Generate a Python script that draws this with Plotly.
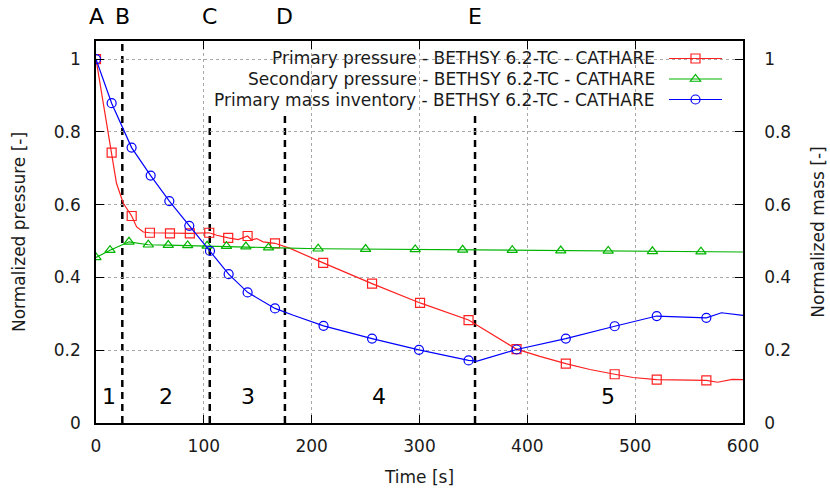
import plotly.graph_objects as go

# ---------------- data ----------------
# Primary pressure (normalized) - line samples
p_time = [0, 3.7, 8.3, 14.5, 19, 25.3, 33.1, 37.7, 43.9, 50, 68.6, 78, 87, 105, 112,
          122.6, 131.9, 140.6, 144.3, 149, 155, 166, 180, 210.7, 256, 300.5, 345.5,
          390, 411.6, 435.7, 458, 481, 498, 520, 566, 576.5, 590, 600]
p_val = [1.0, 0.934, 0.842, 0.743, 0.659, 0.604, 0.569, 0.539, 0.525, 0.523, 0.521, 0.521,
         0.521, 0.523, 0.516, 0.509, 0.504, 0.514, 0.503, 0.507, 0.498, 0.494, 0.480,
         0.440, 0.383, 0.330, 0.283, 0.203, 0.183, 0.163, 0.147, 0.134, 0.125, 0.119,
         0.117, 0.112, 0.120, 0.119]
# Primary pressure - marker points
p_mk_time = [0, 14.5, 33.1, 50, 68.6, 87, 105, 122.6, 140.6, 166, 210.7, 256, 300.5,
             345.5, 390, 435.7, 481, 520, 566]
p_mk_val = [1.0, 0.743, 0.569, 0.523, 0.521, 0.521, 0.523, 0.509, 0.514, 0.494, 0.440,
            0.383, 0.330, 0.283, 0.203, 0.163, 0.134, 0.119, 0.117]

# Secondary pressure (normalized)
s_time = [0, 13, 30.6, 48.5, 67, 85, 103, 121, 139, 160, 206, 250, 296, 340, 386, 431,
          475, 516, 561, 600]
s_val = [0.455, 0.475, 0.498, 0.490, 0.489, 0.488, 0.487, 0.486, 0.485, 0.482, 0.479,
         0.478, 0.477, 0.476, 0.475, 0.474, 0.473, 0.472, 0.471, 0.470]
s_mk_time = [0, 13, 30.6, 48.5, 67, 85, 103, 121, 139, 160, 206, 250, 296, 340, 386,
             431, 475, 516, 561]
s_mk_val = [0.455, 0.475, 0.498, 0.490, 0.489, 0.488, 0.487, 0.486, 0.485, 0.482, 0.479,
            0.478, 0.477, 0.476, 0.475, 0.474, 0.473, 0.472, 0.471]

# Primary mass inventory (normalized)
m_time = [0, 14.5, 33, 50.7, 68, 86.5, 105.7, 123, 140.6, 166, 183, 211, 256, 299.5,
          345.5, 353.5, 390, 435.7, 481, 520, 566, 580, 600]
m_val = [1.0, 0.879, 0.757, 0.680, 0.610, 0.542, 0.473, 0.409, 0.359, 0.315, 0.296,
         0.267, 0.232, 0.201, 0.172, 0.170, 0.202, 0.232, 0.266, 0.294, 0.289, 0.303, 0.296]
m_mk_time = [0, 14.5, 33, 50.7, 68, 86.5, 105.7, 123, 140.6, 166, 211, 256, 299.5,
             345.5, 390, 435.7, 481, 520, 566]
m_mk_val = [1.0, 0.879, 0.757, 0.680, 0.610, 0.542, 0.473, 0.409, 0.359, 0.315, 0.267,
            0.232, 0.201, 0.172, 0.202, 0.232, 0.266, 0.294, 0.289]

# Phase boundaries and labels
event_letters = ["A", "B", "C", "D", "E"]
event_times = [0, 24.4, 105.5, 175.2, 351.5]
phase_labels = ["1", "2", "3", "4", "5"]
phase_times = [12.3, 64.6, 140.6, 262.6, 475]
phase_level = 0.072

series_names = ["Primary pressure - BETHSY 6.2-TC - CATHARE",
                "Secondary pressure - BETHSY 6.2-TC - CATHARE",
                "Primary mass inventory - BETHSY 6.2-TC - CATHARE"]

x_ticks = [0, 100, 200, 300, 400, 500, 600]
y_ticks = [0, 0.2, 0.4, 0.6, 0.8, 1.0]
y_ticklabels = ["0", "0.2", "0.4", "0.6", "0.8", "1"]

# ---------------- styling ----------------
RED, GREEN, BLUE = "#ff2020", "#00b400", "#0000ff"
FONT = "DejaVu Sans"
FS = 17
TXT = "#1a1a1a"
W, H = 830, 488
ML, MR, MT, MB = 96, 87, 41, 65
PW, PH = W - ML - MR, H - MT - MB

fig = go.Figure()

def add_series(t, v, tm, vm, color, symbol, yaxis):
    fig.add_trace(go.Scatter(x=t, y=v, mode="lines", yaxis=yaxis,
                             line=dict(color=color, width=1.2), showlegend=False,
                             hoverinfo="skip"))
    fig.add_trace(go.Scatter(x=tm, y=vm, mode="markers", yaxis=yaxis,
                             marker=dict(symbol=symbol, size=9, color=color,
                                         line=dict(color=color, width=1.2)),
                             showlegend=False))

add_series(p_time, p_val, p_mk_time, p_mk_val, RED, "square-open", "y")
add_series(s_time, s_val, s_mk_time, s_mk_val, GREEN, "triangle-up-open", "y")
add_series(m_time, m_val, m_mk_time, m_mk_val, BLUE, "circle-open", "y2")

shapes = []
# dashed phase boundaries (skip A at t=0, which lies on the axis)
for t in event_times[1:]:
    shapes.append(dict(type="line", xref="x", yref="paper", x0=t, x1=t, y0=0, y1=1,
                       line=dict(color="black", width=2.5, dash="7px,5px"),
                       layer="between"))

def px2paper_x(px):
    return (px - ML) / PW

def px2paper_y(py):
    return (MT + PH - py) / PH

# opaque key box
shapes.append(dict(type="rect", xref="paper", yref="paper",
                   x0=px2paper_x(126), x1=px2paper_x(736),
                   y0=px2paper_y(111), y1=1.0,
                   fillcolor="white", line=dict(width=0), layer="between"))

annotations = []
# key entries (text right aligned, sample on the right)
row_px = [58.5, 79, 99.5]
colors = [RED, GREEN, BLUE]
kinds = ["square", "triangle", "circle"]
text_right = px2paper_x(657)
samp_x0, samp_x1, samp_xm = px2paper_x(669), px2paper_x(722), px2paper_x(695.5)
hx, hy = 4.5 / PW, 4.5 / PH
for name, rp, col, kind in zip(series_names, row_px, colors, kinds):
    yy = px2paper_y(rp)
    annotations.append(dict(text=name, xref="paper", yref="paper", x=text_right, y=yy,
                            xanchor="right", yanchor="middle", showarrow=False,
                            font=dict(family=FONT, size=FS, color=TXT)))
    shapes.append(dict(type="line", xref="paper", yref="paper", x0=samp_x0, x1=samp_x1,
                       y0=yy, y1=yy, line=dict(color=col, width=1.2), layer="above"))
    if kind == "square":
        shapes.append(dict(type="rect", xref="paper", yref="paper",
                           x0=samp_xm - hx, x1=samp_xm + hx, y0=yy - hy, y1=yy + hy,
                           line=dict(color=col, width=1.2), layer="above"))
    elif kind == "circle":
        shapes.append(dict(type="circle", xref="paper", yref="paper",
                           x0=samp_xm - hx, x1=samp_xm + hx, y0=yy - hy, y1=yy + hy,
                           line=dict(color=col, width=1.2), layer="above"))
    else:
        tx = 5.2 / PW
        ty_top, ty_bot = 4.5 / PH, 2.25 / PH
        path = (f"M{samp_xm - tx},{yy - ty_bot} L{samp_xm + tx},{yy - ty_bot} "
                f"L{samp_xm},{yy + ty_top} Z")
        shapes.append(dict(type="path", xref="paper", yref="paper", path=path,
                           line=dict(color=col, width=1.2), layer="above"))

# event letters above the plot
for lab, t in zip(event_letters, event_times):
    annotations.append(dict(text=lab, xref="x", yref="paper", x=t,
                            y=px2paper_y(17), xanchor="center", yanchor="middle",
                            showarrow=False, font=dict(family=FONT, size=22, color="black")))
# phase numbers
for lab, t in zip(phase_labels, phase_times):
    annotations.append(dict(text=lab, xref="x", yref="y", x=t, y=phase_level,
                            xanchor="center", yanchor="middle", showarrow=False,
                            font=dict(family=FONT, size=22, color="black")))

axis_common = dict(showline=True, linecolor="black", linewidth=1.5, ticks="inside",
                   ticklen=8, tickwidth=1, tickcolor="black", zeroline=False,
                   automargin=False,
                   tickfont=dict(family=FONT, size=FS, color=TXT))

fig.update_layout(
    width=W, height=H,
    margin=dict(l=ML, r=MR, t=MT, b=MB, pad=0, autoexpand=False),
    paper_bgcolor="white", plot_bgcolor="white",
    showlegend=False,
    font=dict(family=FONT, size=FS, color=TXT),
    xaxis=dict(range=[0, 600], tickvals=x_ticks, mirror="ticks",
               showgrid=True, gridcolor="#a8a8a8", griddash="dot", gridwidth=1,
               ticklabelstandoff=7,
               title=dict(text="Time [s]", standoff=16,
                          font=dict(family=FONT, size=FS, color=TXT)),
               **axis_common),
    yaxis=dict(range=[0, 1.05], tickvals=y_ticks, ticktext=y_ticklabels, mirror=True,
               showgrid=True, gridcolor="#a8a8a8", griddash="dot", gridwidth=1,
               ticklabelstandoff=10,
               title=dict(text="Normalized pressure [-]", standoff=24,
                          font=dict(family=FONT, size=FS, color=TXT)),
               **axis_common),
    yaxis2=dict(range=[0, 1.05], tickvals=y_ticks, ticktext=y_ticklabels,
                overlaying="y", side="right", showgrid=False,
                ticklabelstandoff=16,
                title=dict(text="Normalized mass [-]", standoff=22,
                           font=dict(family=FONT, size=FS, color=TXT)),
                **axis_common),
    shapes=shapes,
    annotations=annotations,
)

fig.write_html("out.html", config={"displayModeBar": False},
               post_script="document.body.style.margin='0px';document.body.style.padding='0px';")
